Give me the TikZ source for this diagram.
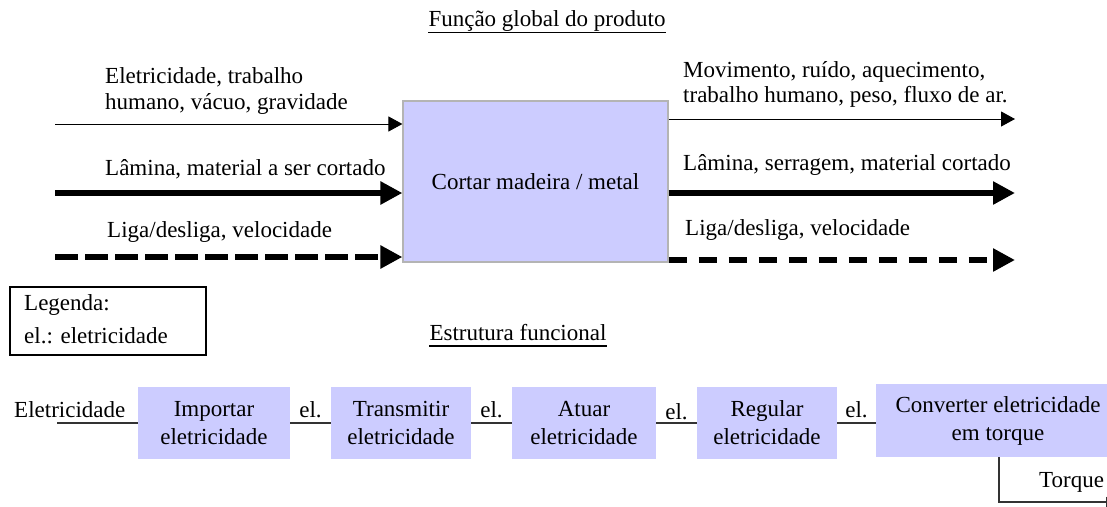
\documentclass[tikz,border=0pt]{standalone}
\usepackage{fontspec}
\setmainfont{Liberation Serif}
\usetikzlibrary{arrows.meta}
\definecolor{boxfill}{HTML}{CCCCFF}
\definecolor{boxedge}{HTML}{B4B4B4}
\definecolor{linegray}{HTML}{333333}
\begin{document}
\begin{tikzpicture}[x=1pt,y=-1pt,
  every node/.style={font=\fontsize{23}{26}\selectfont, inner sep=0pt},
  txt/.style={anchor=base west},
  ctxt/.style={anchor=base},
  uline/.style={line width=1.5pt},
  mainbox/.style={draw=boxedge, line width=1.2pt, fill=boxfill},
  fbox/.style={fill=boxfill, align=center, font=\fontsize{23}{28}\selectfont},
  thinarrow/.style={line width=1pt, -{Triangle[length=14pt,width=15pt]}},
  thickarrow/.style={line width=5.5pt, -{Triangle[length=22pt,width=22pt]}},
  conn/.style={line width=1.3pt, draw=linegray},
  legbox/.style={draw, line width=1.2pt}
]
\useasboundingbox (0,0) rectangle (1107,506);
\clip (0,0) rectangle (1107,506);

% Title
\node[ctxt] (t1) at (547,27) {Função global do produto};
\draw[uline] ([yshift=-5.5pt]t1.base west) -- ([yshift=-5.5pt]t1.base east);

% Main box
\node[mainbox, minimum width=265pt, minimum height=161pt] (m) at (535.5,181.5) {Cortar madeira / metal};

% Left inputs
\coordinate (l1) at (55,124);
\coordinate (l2) at (55,193);
\coordinate (l3) at (55,257);
\draw[thinarrow] (l1) -- (l1 -| m.west);
\draw[thickarrow] (l2) -- (l2 -| m.west);
\draw[thickarrow, dash pattern=on 23pt off 7pt] (l3) -- (l3 -| m.west);
\node[txt] (lt1) at (105,83) {Eletricidade, trabalho};
\node[txt] (lt2) at (105,109) {humano, vácuo, gravidade};
\node[txt] (lt3) at (105,175) {Lâmina, material a ser cortado};
\node[txt] (lt4) at (107,237) {Liga/desliga, velocidade};

% Right outputs
\coordinate (r1) at (1015,119);
\coordinate (r2) at (1015,193);
\coordinate (r3) at (1015,260);
\draw[thinarrow] (r1 -| m.east) -- (r1);
\draw[thickarrow] (r2 -| m.east) -- (r2);
\draw[thickarrow, dash pattern=on 18pt off 12pt] (r3 -| m.east) -- (r3);
\node[txt] (rt1) at (683,77) {Movimento, ruído, aquecimento,};
\node[txt] (rt2) at (683,102) {trabalho humano, peso, fluxo de ar.};
\node[txt] (rt3) at (683,170) {Lâmina, serragem, material cortado};
\node[txt] (rt4) at (685,235) {Liga/desliga, velocidade};

% Legend
\node[legbox, minimum width=196pt, minimum height=68pt] (leg) at (108,321) {};
\node[txt] (lg1) at (24,310) {Legenda:};
\node[txt] (lg2) at (24,343) {el.: eletricidade};

% Functional structure title
\node[ctxt] (t2) at (518,340) {Estrutura funcional};
\draw[uline] ([yshift=-6pt]t2.base west) -- ([yshift=-6pt]t2.base east);

% Function boxes
\node[fbox, minimum width=152pt, minimum height=72pt] (b1) at (214,423) {Importar\\eletricidade};
\node[fbox, minimum width=140pt, minimum height=72pt] (b2) at (401,423) {Transmitir\\eletricidade};
\node[fbox, minimum width=144pt, minimum height=72pt] (b3) at (584,423) {Atuar\\eletricidade};
\node[fbox, minimum width=140pt, minimum height=72pt] (b4) at (767,423) {Regular\\eletricidade};
\node[fbox, minimum width=244pt, minimum height=73pt] (b5) at (998,420.5) {Converter eletricidade\\em torque};

% Connectors
\node[txt] (e0) at (14,417) {Eletricidade};
\coordinate (e0s) at (57,423);
\draw[conn] (e0s) -- (b1.west);
\draw[conn] (b1.east) -- node[anchor=base, yshift=6pt] (el1) {el.} (b2.west);
\draw[conn] (b2.east) -- node[anchor=base, yshift=6pt] (el2) {el.} (b3.west);
\draw[conn] (b3.east) -- node[anchor=base, yshift=4pt] (el3) {el.} (b4.west);
\draw[conn] (b4.east) -- node[anchor=base, yshift=6pt] (el4) {el.} (b4.east -| b5.west);

% Torque output
\coordinate (tq) at (1116,502);
\draw[conn, -{Triangle[length=10pt,width=10pt]}] (b5.south -| 999,0) |- (tq);
\node[txt] (tql) at (1039,487) {Torque};
\end{tikzpicture}
\end{document}
